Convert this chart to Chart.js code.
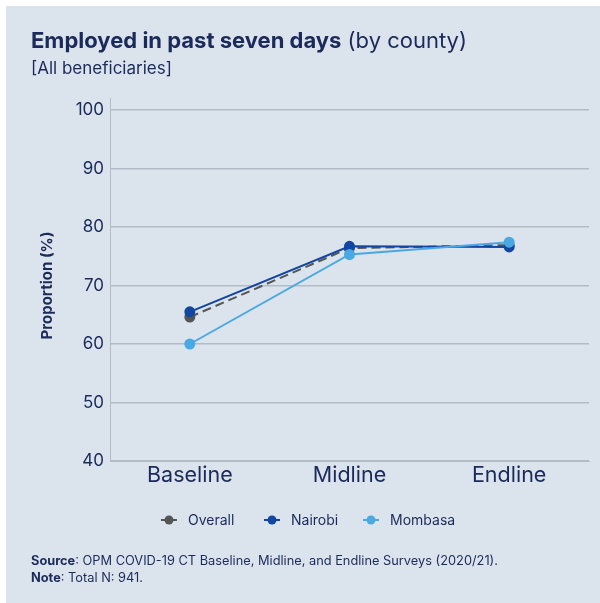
<!DOCTYPE html>
<html>
<head>
<meta charset="utf-8">
<script src="https://cdn.jsdelivr.net/npm/chart.js@4/dist/chart.umd.min.js"></script>
<style>
  html, body { margin: 0; padding: 0; background: #ffffff; }
  #panel {
    position: absolute; left: 6px; top: 6px; width: 594px; height: 597px;
    background: #dbe3ec; overflow: hidden;
    font-family: Inter, "Open Sans", sans-serif; color: #1b2a5a;
  }
  #chart { position: absolute; left: -6px; top: -6px; }
  .title { position: absolute; left: 25px; top: 21px; font-size: 22px; white-space: nowrap; }
  .title b { font-weight: 700; }
  .sub { position: absolute; left: 25px; top: 52px; font-size: 17px; }
  .legend { position: absolute; top: 504px; left: 0; width: 594px; height: 20px; font-size: 14px; }
  .legend .item { position: absolute; top: 0; height: 20px; line-height: 20px; }
  .legend canvas { position: absolute; top: 2px; left: 0; }
  .legend span { position: absolute; left: 28px; top: 0; white-space: nowrap; }
  .foot { position: absolute; left: 25px; font-size: 12.8px; white-space: nowrap; }
</style>
</head>
<body>
<div id="panel">
  <canvas id="chart" width="600" height="603"></canvas>
  <div class="title"><b>Employed in past seven days</b> (by county)</div>
  <div class="sub">[All beneficiaries]</div>
  <div class="legend" id="legend"></div>
  <div class="foot" style="top:547px"><b>Source</b>: OPM COVID-19 CT Baseline, Midline, and Endline Surveys (2020/21).</div>
  <div class="foot" style="top:564px"><b>Note</b>: Total N: 941.</div>
</div>
<script>
// survey rounds and share employed (%)
const rounds = ["Baseline", "Midline", "Endline"];
const seriesNames = ["Overall", "Nairobi", "Mombasa"];
const overall = [64.6, 76.4, 76.9];
const nairobi = [65.5, 76.7, 76.6];
const mombasa = [60.0, 75.3, 77.4];
const yTicks = [40, 50, 60, 70, 80, 90, 100];

const colors = ["#555555", "#1246a0", "#4aa8e2"];
const navy = "#1b2a5a";
const gridColor = "#b1bcc7";

function line(label, data, color, dash, order) {
  return {
    label: label,
    data: data,
    borderColor: color,
    backgroundColor: color,
    pointBackgroundColor: color,
    pointBorderColor: color,
    borderWidth: 2,
    borderDash: dash,
    pointRadius: 4.5,
    pointHoverRadius: 4.5,
    order: order
  };
}

// y axis line runs a little above the top gridline
const axisExtend = {
  id: "axisExtend",
  afterDraw(chart) {
    const c = chart.ctx, a = chart.chartArea;
    c.save();
    c.strokeStyle = gridColor;
    c.lineWidth = 1;
    c.beginPath();
    c.moveTo(a.left + 0.5, a.top - 12);
    c.lineTo(a.left + 0.5, a.top);
    c.stroke();
    c.restore();
  }
};

const chart = new Chart(document.getElementById("chart"), {
  type: "line",
  data: {
    labels: rounds,
    datasets: [
      line(seriesNames[0], overall, colors[0], [9, 5], 2),
      line(seriesNames[1], nairobi, colors[1], [], 1),
      line(seriesNames[2], mombasa, colors[2], [], 0)
    ]
  },
  options: {
    responsive: false,
    animation: false,
    layout: { padding: { left: 30, right: 11, top: 110, bottom: 0 } },
    plugins: { legend: { display: false }, tooltip: { enabled: false } },
    scales: {
      x: {
        offset: true,
        afterFit(s) { s.height = 142; },
        grid: { display: false, drawTicks: false },
        border: { display: true, color: gridColor, width: 1 },
        ticks: { color: navy, padding: 2, font: { family: "Inter", size: 21.5 } }
      },
      y: {
        min: 40,
        max: 100,
        afterFit(s) { s.width = 80; },
        afterBuildTicks(s) { s.ticks = yTicks.map(v => ({ value: v })); },
        grid: { color: gridColor, lineWidth: 1.5, drawTicks: false },
        border: { display: true, color: gridColor, width: 1 },
        ticks: { color: navy, padding: 6, font: { family: "Inter", size: 17 } },
        title: {
          display: true,
          text: "Proportion (%)",
          color: navy,
          padding: { top: 8, bottom: 0 },
          font: { family: "Inter", size: 15, weight: "bold" }
        }
      }
    }
  },
  plugins: [axisExtend]
});

// legend: short line with a dot, then the series name
const legendX = [154, 257, 356];
const legendEl = document.getElementById("legend");
chart.data.datasets.forEach((ds, i) => {
  const item = document.createElement("div");
  item.className = "item";
  item.style.left = legendX[i] + "px";
  const m = document.createElement("canvas");
  m.width = 18; m.height = 16;
  const c = m.getContext("2d");
  c.strokeStyle = ds.borderColor;
  c.lineWidth = 2;
  c.beginPath(); c.moveTo(1, 8); c.lineTo(17, 8); c.stroke();
  c.fillStyle = ds.borderColor;
  c.beginPath(); c.arc(9, 8, 4.5, 0, Math.PI * 2); c.fill();
  const t = document.createElement("span");
  t.textContent = ds.label;
  item.appendChild(m);
  item.appendChild(t);
  legendEl.appendChild(item);
});
</script>
</body>
</html>
